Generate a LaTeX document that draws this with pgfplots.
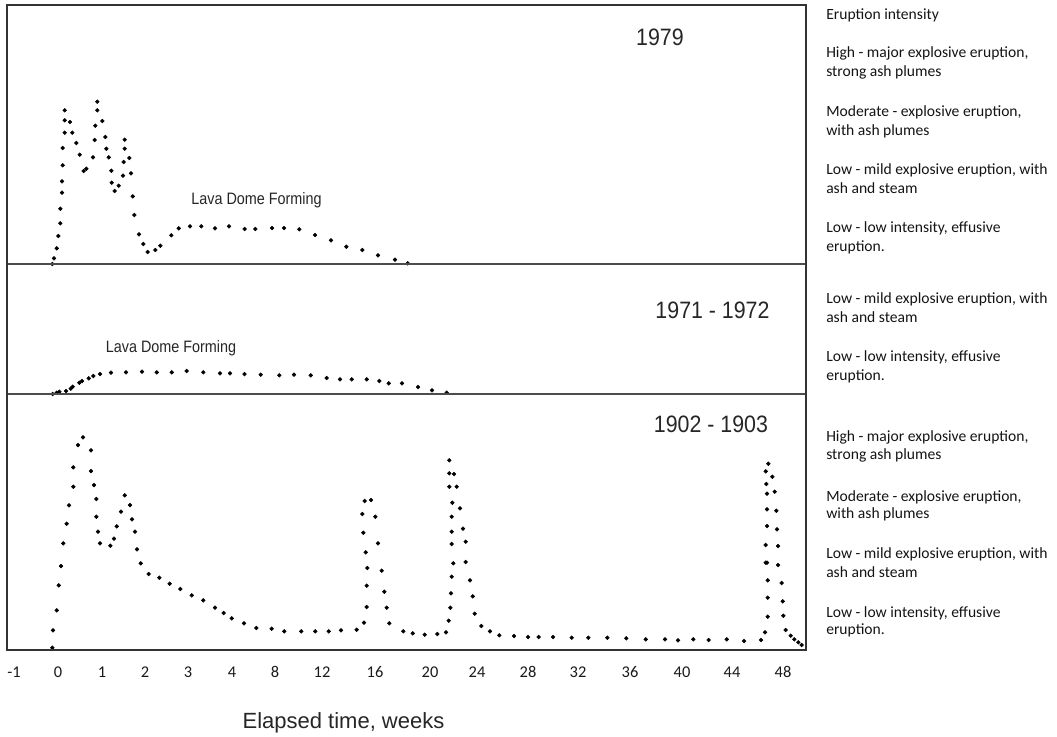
\documentclass[border=0pt]{standalone}
\usepackage{pgfplots}
\pgfplotsset{compat=1.18}
\usepackage{fontspec}
\setmainfont{Liberation Sans}
\newfontfamily\carlito{Carlito}
\newfontfamily\titlefont[FakeStretch=0.9]{Liberation Sans}
\newfontfamily\lavafont[FakeStretch=0.87]{Liberation Sans}

\pgfplotsset{
  panel/.style={
    scale only axis,
    width=599.25pt,
    xmin=7, xmax=806,
    ymin=0,
    clip=false,
    axis line style={draw=black!70, line width=1.1pt},
    ytick=\empty,
    xtick=\empty,
  },
  dots/.style={only marks, mark=*, mark size=1.4pt, black, mark options={draw=black, fill=black}},
}

\begin{document}
\begin{tikzpicture}
% ---------- 1979 ----------
\begin{axis}[panel, at={(5.25pt,-3.75pt)}, anchor=north west, height=194.25pt, ymax=259]
\addplot[dots] coordinates {
(52.3,0) (54,5.7) (56.7,15.7) (58.3,28) (60.3,40.7) (60.3,55.3) (62,71.3) (62,82.7)
(62.7,98.7) (62.7,116) (64.7,131.3) (64.7,143.7) (64.7,153.7) (70,142) (72.3,131.3)
(76.3,121) (79.7,109.3) (83.7,93) (86.3,95.3) (93,106.7) (94.7,124) (95.3,138.3)
(97.3,162.3) (97.3,153.7) (102.3,143) (105.3,127) (106.3,115.3) (108.7,106.7)
(111.3,93.3) (111.7,81.3) (114.7,73) (118.7,78.3) (123,88.3) (123.7,102) (124.7,115.3)
(124.7,124.3) (129.3,106) (131,90.7) (132.7,67.7) (134.3,49) (139,29.7) (143.3,20)
(147.7,12) (155.3,14) (160.3,18.3) (171.3,28.7) (178.7,35.7) (190,37.7) (201.3,37.7)
(215,35.7) (229,37.7) (244.7,35) (255.3,35) (272,36) (284,36) (299.3,34.7) (315,29)
(331,23.7) (346.3,17.3) (362.3,14) (378,8.7) (395,4.3) (407.7,0.7)
};
\end{axis}
% ---------- 1971 - 1972 ----------
\begin{axis}[panel, at={(5.25pt,-198pt)}, anchor=north west, height=97.5pt, ymax=130]
\addplot[dots] coordinates {
(52.7,0) (56.7,1.3) (59.3,2.3) (66,3) (70.7,5.3) (72.7,7.3) (79.3,11.3) (82,13)
(88.7,15.7) (93.3,18) (100,20) (111,21.3) (126,21.7) (142,22.3) (156.7,21.7)
(171.7,21.7) (186.7,23) (203.3,21.7) (220,20.7) (230,20.7) (244.5,19.9) (260.7,19.3)
(279.3,18.7) (294,19.3) (310.7,18.7) (326.7,16) (340,14.7) (351.7,14.7) (366.7,14.7)
(379.3,13) (388.7,10.7) (402,10.7) (418,7) (432,3.7) (446.7,1.3)
};
\end{axis}
% ---------- 1902 - 1903 ----------
\begin{axis}[panel, at={(5.25pt,-295.5pt)}, anchor=north west, height=192pt, ymax=256,
  xtick={14,58,102,145,188,232,275,322,375,430,477,528,578,630,682,732,783},
  xticklabels={-1,0,1,2,3,4,8,12,16,20,24,28,32,36,40,44,48},
  major tick length=0pt,
  xticklabel style={anchor=base, yshift=-20.5pt, font=\carlito\fontsize{12.3}{14}\selectfont, text=black!90},
]
\addplot[dots] coordinates {
(52.3,2.3) (53,19.7) (56.7,39.7) (58.7,64.7) (61,84) (63.3,106.7) (66.7,126.3) (69,144.7)
(73.3,163.3) (73.3,182.7) (78,205) (83,212.7) (91,199.7) (91,179) (94,165) (96.3,151)
(96.3,133.3) (98,118.3) (100,106.7) (110.3,104.3) (114,111.3) (116.7,123.7) (121,138.3)
(124.7,154.7) (130,145) (132,130.7) (135,118.3) (137,100.7) (140.7,86.7) (148.7,76)
(159.3,72.3) (169.7,66.3) (180.3,61) (191.7,54.7) (203.3,49.7) (215,42.3) (223.7,37)
(231.7,31.7) (244,26.7) (256.3,22) (271.7,21.3) (284.3,18.7) (301.3,18.7) (315.3,18.7)
(328.7,18.7) (341,19.7) (356.7,20.3) (364,27.3) (366.7,43) (366.7,64.3) (367.3,82)
(365.7,97.7) (363.3,117.3) (362.3,136) (364.7,149) (371,150) (375.3,133.3) (378,106.7)
(381.7,79.3) (384.3,58.3) (386.7,42.3) (389.3,26.7) (403.3,18.7) (412.7,16.7)
(424.7,15.3) (437.3,16) (446,17.7) (448.7,29.3) (450.3,42.3) (451,56.7) (451.7,73.3)
(453.3,86.7) (451.7,106) (451.7,118.3) (451.7,133.3) (452.3,147.3) (449.3,163.3)
(449.3,176.7) (449.3,189.7) (454,176) (456.7,163.3) (460,141.7) (463,121.3)
(465.7,108.3) (465.7,88) (470,69.7) (472.7,53.7) (474.7,36.3) (481.3,24) (490,18.7)
(499.3,14.7) (514,14) (528,13) (538.7,13) (553,13) (571.7,12.3) (588.3,12.3)
(607.3,12.3) (626.3,11.7) (645.7,10.7) (665,10.7) (678,9.7) (693.3,10.7) (708.7,10)
(726.7,10.7) (744,9) (761,10) (765,17.7) (767.7,33.3) (767.7,52.3) (767.7,69.7)
(765.7,87.3) (767,87.3) (765.7,105) (767,124) (767,140.7) (767,156.3) (766.3,166)
(765.7,178.7) (768.3,186.3) (772.3,173.3) (774.7,158.3) (776.3,139.3) (777,120.7)
(778,104) (778,85) (781.7,67) (782.7,48.7) (783.3,34.3) (785.7,20) (790.7,14.3)
(794.3,10.7) (798.3,7.7) (801.7,5)
};
\end{axis}

\begin{scope}[x=0.75pt, y=-0.75pt]
% outer frame
\draw[line width=2pt, black!80] (7,5) rectangle (806,650);
% panel titles
\node[anchor=base, inner sep=0, text=black!85, font=\titlefont\fontsize{17.8}{20}\selectfont] at (660,45) {1979};
\node[anchor=base, inner sep=0, text=black!85, font=\titlefont\fontsize{17.8}{20}\selectfont] at (712.5,318) {1971 - 1972};
\node[anchor=base, inner sep=0, text=black!85, font=\titlefont\fontsize{17.8}{20}\selectfont] at (711,432) {1902 - 1903};
% annotations
\node[anchor=base, inner sep=0, text=black!85, font=\lavafont\fontsize{12.4}{14}\selectfont] at (256.5,204) {Lava Dome Forming};
\node[anchor=base, inner sep=0, text=black!85, font=\lavafont\fontsize{12.4}{14}\selectfont] at (171,352) {Lava Dome Forming};
% x axis label
\node[anchor=base, inner sep=0, text=black!85, font=\fontsize{16.5}{19}\selectfont] at (343.5,728) {Elapsed time, weeks};
% right-hand intensity descriptions
\begin{scope}[every node/.style={anchor=base west, inner sep=0, text=black!92, font=\carlito\fontsize{11.7}{14}\selectfont}]
\node at (826,19.5) {Eruption intensity};
\node at (826,57.5) {High - major explosive eruption,};
\node at (826,76.5) {strong ash plumes};
\node at (826,116.5) {Moderate - explosive eruption,};
\node at (826,135.5) {with ash plumes};
\node at (826,174.5) {Low - mild explosive eruption, with};
\node at (826,193.5) {ash and steam};
\node at (826,232.5) {Low - low intensity, effusive};
\node at (826,251.5) {eruption.};
\node at (826,303.5) {Low - mild explosive eruption, with};
\node at (826,322.5) {ash and steam};
\node at (826,361.5) {Low - low intensity, effusive};
\node at (826,380.5) {eruption.};
\node at (826,441.5) {High - major explosive eruption,};
\node at (826,459.5) {strong ash plumes};
\node at (826,501.5) {Moderate - explosive eruption,};
\node at (826,518.5) {with ash plumes};
\node at (826,558.5) {Low - mild explosive eruption, with};
\node at (826,577.5) {ash and steam};
\node at (826,617.5) {Low - low intensity, effusive};
\node at (826,634.5) {eruption.};
\end{scope}
\end{scope}
\pgfresetboundingbox
\path[use as bounding box] (0,0) rectangle (792.75pt,-552pt);
\end{tikzpicture}
\end{document}
